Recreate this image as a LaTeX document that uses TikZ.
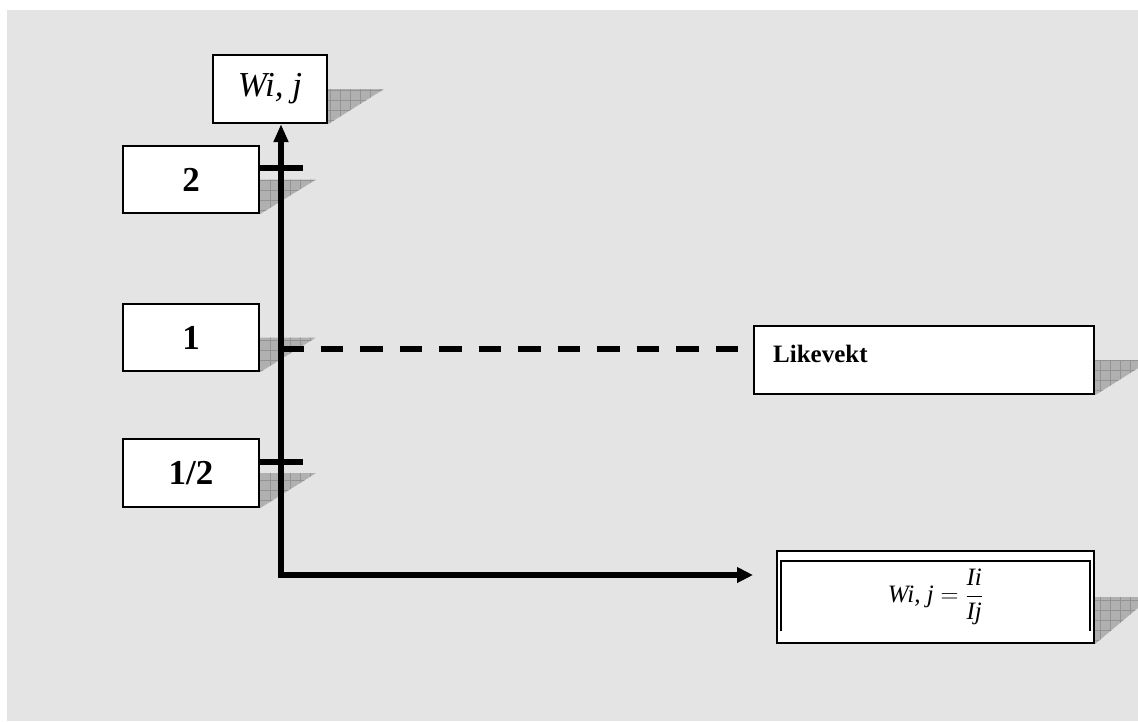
\documentclass[tikz,border=0pt]{standalone}
\usepackage{fontspec}
\setmainfont{Liberation Serif}
\usepackage{amsmath}
\usetikzlibrary{arrows.meta,backgrounds}

\definecolor{bggray}{HTML}{E4E4E4}
\definecolor{shadefill}{HTML}{B0B0B0}
\definecolor{shadegrid}{HTML}{939393}

\tikzset{
  valbox/.style={draw=black, line width=2.2pt, fill=white,
    minimum width=136pt, minimum height=67pt, inner sep=0pt,
    font=\fontsize{35}{40}\selectfont\bfseries},
  axisline/.style={line width=5.5pt, -{Triangle[length=18pt,width=14pt]}},
  tickmark/.style={line width=6pt},
  levelline/.style={line width=5.5pt, dash pattern=on 22.5pt off 17pt},
}

% hatched drop shadow hanging off the right side of a box
\newcommand\boxshade[1]{%
  \begin{scope}
    \clip (#1.east) -- ([xshift=56pt]#1.east) -- (#1.south east) -- cycle;
    \fill[shadefill] ([yshift=2pt]#1.east) rectangle ([xshift=58pt,yshift=-2pt]#1.south east);
    \draw[shadegrid, line width=0.7pt, step=10pt]
      ([yshift=2pt]#1.east) grid ([xshift=58pt,yshift=-2pt]#1.south east);
  \end{scope}}

\begin{document}
\begin{tikzpicture}[x=1pt,y=-1pt]
  \useasboundingbox (0,0) rectangle (1138,721);

  % value boxes
  \node[valbox, minimum width=114pt, minimum height=68pt,
        font=\fontsize{35}{40}\selectfont\itshape] (W) at (270,89) {Wi, j};
  \node[valbox] (two)  at (191,179.5) {2};
  \node[valbox] (one)  at (191,337.5) {1};
  \node[valbox, minimum height=68pt] (half) at (191,473) {1/2};

  % equilibrium box
  \node[valbox, minimum width=340pt, minimum height=68pt] (eq) at (924,360) {};
  \node[anchor=base west, inner sep=0pt, font=\fontsize{25}{30}\selectfont\bfseries]
    (eqtext) at (773,362) {Likevekt};

  % formula box with its inner frame
  \node[valbox, minimum width=317pt, minimum height=92pt, line width=2pt,
        font=\fontsize{25}{30}\selectfont] (F) at (935.5,597)
    {$\textit{Wi, j} = \dfrac{\textit{Ii}}{\textit{Ij}}$};
  \draw[line width=1.6pt] ([shift={(5pt,-81pt)}]F.north west)
    -- ([shift={(5pt,-11pt)}]F.north west)
    -- ([shift={(-5pt,-11pt)}]F.north east)
    -- ([shift={(-5pt,-81pt)}]F.north east);

  % background and shadows
  \begin{pgfonlayer}{background}
    \fill[white] (0,0) rectangle (1138,721);
    \fill[bggray] (7,10) rectangle (1138,721);
    \boxshade{W}
    \boxshade{two}
    \boxshade{one}
    \boxshade{half}
    \boxshade{eq}
    \boxshade{F}
  \end{pgfonlayer}

  % axes
  \coordinate (origin) at (281,575);
  \coordinate (xend) at (753,575);
  \draw[axisline, shorten <=-2.75pt] (origin) -- (origin |- W.south);
  \draw[axisline, -{Triangle[length=16pt,width=15pt]}] (origin) -- (xend);

  % tick marks and equilibrium level
  \coordinate (t2) at (303,168);
  \coordinate (th) at (303,462);
  \draw[tickmark] (two.east |- t2) -- (t2);
  \draw[tickmark] (half.east |- th) -- (th);
  \coordinate (lstart) at (281,349);
  \coordinate (lend) at (738,349);
  \draw[levelline] (lstart) -- (lend);
\end{tikzpicture}
\end{document}
